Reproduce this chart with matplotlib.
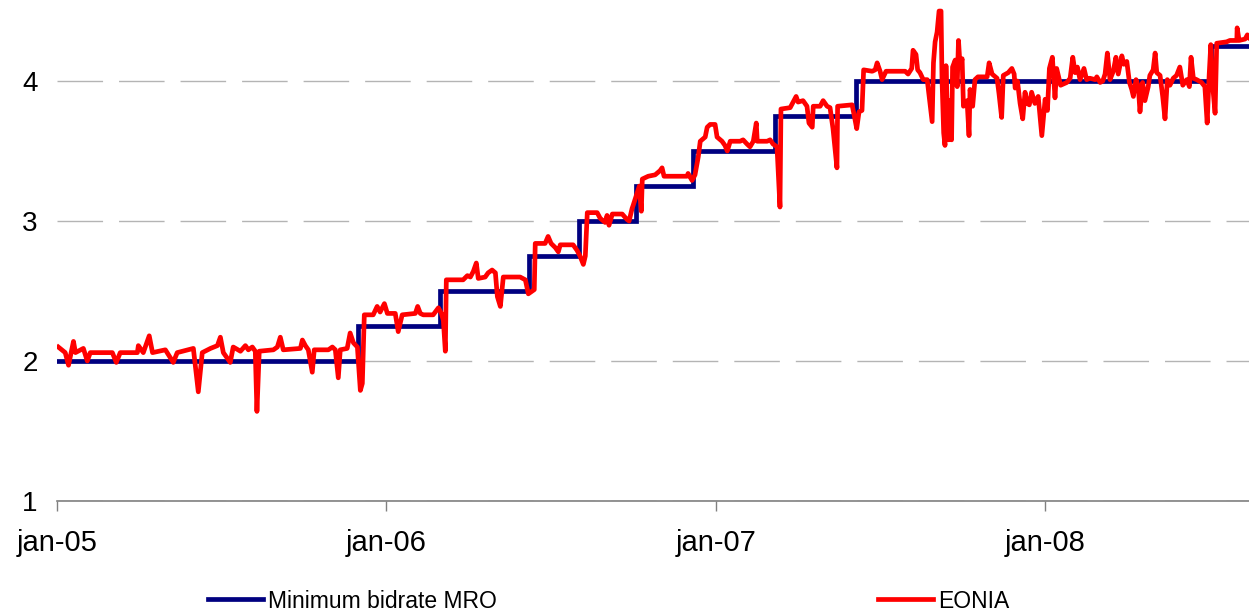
import matplotlib
matplotlib.use("Agg")
import matplotlib.pyplot as plt

plt.rcParams['font.family'] = ['Liberation Sans', 'DejaVu Sans']

# dates are decimal years
mro_t = [2005.000, 2005.915, 2006.164, 2006.433, 2006.586, 2006.759,
         2006.932, 2007.181, 2007.427, 2008.503, 2008.620]
mro_rate = [2.00, 2.25, 2.50, 2.75, 3.00, 3.25, 3.50, 3.75, 4.00, 4.25, 4.25]

# eonia, time in years since 1 jan 2005
eonia_t = [
    0.004, 0.025, 0.035, 0.050, 0.056, 0.080, 0.092, 0.101, 0.168, 0.180,
    0.192, 0.244, 0.247, 0.262, 0.280, 0.290, 0.329, 0.353, 0.365, 0.414,
    0.429, 0.441, 0.466, 0.487, 0.496, 0.505, 0.526, 0.535, 0.557, 0.572,
    0.581, 0.593, 0.602, 0.607, 0.614, 0.657, 0.669, 0.678, 0.687, 0.739,
    0.745, 0.754, 0.763, 0.775, 0.781, 0.824, 0.836, 0.845, 0.854, 0.860,
    0.881, 0.890, 0.900, 0.912, 0.921, 0.927, 0.933, 0.960, 0.972, 0.981,
    0.994, 1.003, 1.027, 1.036, 1.048, 1.088, 1.095, 1.103, 1.112, 1.142,
    1.158, 1.167, 1.173, 1.179, 1.182, 1.233, 1.246, 1.255, 1.264, 1.273,
    1.279, 1.300, 1.309, 1.321, 1.331, 1.337, 1.346, 1.355, 1.406, 1.422,
    1.431, 1.443, 1.449, 1.452, 1.482, 1.491, 1.500, 1.513, 1.522, 1.528,
    1.567, 1.579, 1.588, 1.598, 1.604, 1.610, 1.640, 1.649, 1.664, 1.670,
    1.676, 1.686, 1.716, 1.731, 1.737, 1.746, 1.749, 1.761, 1.768, 1.774,
    1.777, 1.795, 1.816, 1.831, 1.837, 1.843, 1.913, 1.916, 1.928, 1.937,
    1.947, 1.953, 1.968, 1.974, 1.983, 1.998, 2.004, 2.019, 2.028, 2.035,
    2.044, 2.074, 2.083, 2.095, 2.104, 2.114, 2.123, 2.126, 2.156, 2.165,
    2.174, 2.186, 2.195, 2.198, 2.226, 2.244, 2.250, 2.265, 2.277, 2.283,
    2.293, 2.296, 2.317, 2.326, 2.338, 2.347, 2.356, 2.368, 2.370, 2.414,
    2.420, 2.428, 2.435, 2.444, 2.449, 2.475, 2.484, 2.490, 2.499, 2.505,
    2.517, 2.575, 2.584, 2.595, 2.599, 2.608, 2.613, 2.620, 2.630, 2.642,
    2.648, 2.657, 2.661, 2.666, 2.672, 2.678, 2.684, 2.687, 2.692, 2.696,
    2.699, 2.704, 2.707, 2.711, 2.716, 2.719, 2.727, 2.733, 2.737, 2.742,
    2.748, 2.752, 2.763, 2.769, 2.772, 2.780, 2.787, 2.796, 2.824, 2.830,
    2.839, 2.854, 2.860, 2.868, 2.873, 2.888, 2.899, 2.906, 2.909, 2.916,
    2.924, 2.932, 2.939, 2.946, 2.952, 2.959, 2.969, 2.979, 2.990, 3.000,
    3.007, 3.013, 3.022, 3.030, 3.035, 3.040, 3.047, 3.066, 3.076, 3.084,
    3.091, 3.098, 3.106, 3.118, 3.126, 3.136, 3.152, 3.157, 3.167, 3.175,
    3.182, 3.189, 3.197, 3.207, 3.215, 3.222, 3.233, 3.239, 3.248, 3.256,
    3.263, 3.268, 3.276, 3.283, 3.288, 3.296, 3.303, 3.313, 3.318, 3.328,
    3.334, 3.339, 3.349, 3.357, 3.364, 3.371, 3.379, 3.389, 3.399, 3.409,
    3.418, 3.430, 3.438, 3.443, 3.450, 3.460, 3.475, 3.485, 3.492, 3.498,
    3.503, 3.509, 3.516, 3.521, 3.551, 3.561, 3.582, 3.583, 3.589, 3.607,
    3.614, 3.619,
]
eonia = [
    2.10, 2.06, 1.97, 2.14, 2.06, 2.09, 2.00, 2.06, 2.06, 1.99,
    2.06, 2.06, 2.11, 2.06, 2.18, 2.06, 2.08, 1.99, 2.06, 2.09,
    1.78, 2.06, 2.09, 2.11, 2.17, 2.06, 1.99, 2.10, 2.07, 2.11,
    2.08, 2.10, 2.07, 1.64, 2.07, 2.08, 2.10, 2.17, 2.08, 2.09,
    2.15, 2.11, 2.08, 1.92, 2.08, 2.08, 2.10, 2.08, 1.88, 2.08,
    2.09, 2.20, 2.13, 2.10, 1.79, 1.84, 2.33, 2.33, 2.39, 2.35,
    2.41, 2.34, 2.34, 2.21, 2.33, 2.34, 2.39, 2.34, 2.33, 2.33,
    2.38, 2.34, 2.29, 2.07, 2.58, 2.58, 2.61, 2.60, 2.64, 2.70,
    2.59, 2.60, 2.63, 2.65, 2.63, 2.46, 2.39, 2.60, 2.60, 2.58,
    2.48, 2.50, 2.51, 2.84, 2.84, 2.89, 2.84, 2.81, 2.78, 2.83,
    2.83, 2.79, 2.75, 2.69, 2.75, 3.06, 3.06, 3.02, 2.99, 3.04,
    2.97, 3.05, 3.05, 3.01, 3.00, 3.09, 3.11, 3.20, 3.25, 3.07,
    3.30, 3.32, 3.33, 3.36, 3.38, 3.32, 3.32, 3.34, 3.29, 3.33,
    3.46, 3.57, 3.60, 3.67, 3.69, 3.69, 3.60, 3.57, 3.54, 3.50,
    3.57, 3.57, 3.58, 3.55, 3.53, 3.57, 3.70, 3.57, 3.57, 3.58,
    3.55, 3.53, 3.10, 3.80, 3.81, 3.89, 3.85, 3.86, 3.82, 3.70,
    3.67, 3.82, 3.82, 3.86, 3.82, 3.81, 3.66, 3.38, 3.82, 3.83,
    3.76, 3.66, 3.78, 3.79, 4.08, 4.07, 4.08, 4.13, 4.07, 4.01,
    4.07, 4.07, 4.05, 4.09, 4.22, 4.19, 4.08, 4.06, 4.01, 4.01,
    3.89, 3.71, 4.13, 4.28, 4.35, 4.50, 4.50, 4.01, 3.63, 3.54,
    4.11, 3.68, 3.58, 3.86, 3.58, 4.10, 4.15, 3.96, 4.29, 4.10,
    4.16, 3.82, 3.86, 3.61, 3.94, 3.82, 4.01, 4.03, 4.03, 4.13,
    4.05, 4.02, 3.91, 3.74, 4.04, 4.06, 4.09, 4.05, 3.95, 4.00,
    3.84, 3.73, 3.92, 3.84, 3.83, 3.92, 3.84, 3.89, 3.61, 3.87,
    3.79, 4.09, 4.17, 3.88, 4.09, 4.04, 3.97, 3.99, 4.02, 4.17,
    4.06, 4.10, 4.01, 4.09, 4.01, 4.02, 4.01, 4.03, 3.99, 4.00,
    4.05, 4.20, 4.01, 4.07, 4.17, 4.05, 4.18, 4.12, 4.14, 3.99,
    3.94, 3.89, 4.01, 3.96, 3.78, 3.99, 3.86, 3.96, 4.04, 4.08,
    4.20, 4.06, 4.04, 3.89, 3.73, 4.01, 3.97, 4.02, 4.04, 4.10,
    3.97, 4.01, 3.96, 4.17, 4.02, 4.01, 3.99, 3.96, 3.70, 4.04,
    4.26, 3.96, 3.77, 4.27, 4.28, 4.29, 4.29, 4.38, 4.29, 4.30,
    4.33, 4.31,
]

year_ticks = [2005, 2006, 2007, 2008]
year_labels = ['jan-05', 'jan-06', 'jan-07', 'jan-08']
y_ticks = [1, 2, 3, 4]

W, H = 1249, 613
fig = plt.figure(figsize=(W / 100, H / 100), dpi=100)
ax = fig.add_axes([57 / W, 1 - 501 / H, 1 - 57 / W, 501 / H])

l1, = ax.step(mro_t, mro_rate, where='post', color='#000080', lw=3.4,
              solid_joinstyle='miter', zorder=2)
l2, = ax.plot([2005 + t for t in eonia_t], eonia, color='#ff0000', lw=3.4,
              solid_joinstyle='round', zorder=3)

ax.set_xlim(2005.0, 2008.619)
ax.set_ylim(1, 4.579)

for s in ['top', 'right', 'left']:
    ax.spines[s].set_visible(False)
ax.spines['bottom'].set_color('#808080')
ax.spines['bottom'].set_linewidth(1.2)

ax.set_xticks(year_ticks)
ax.set_xticklabels(year_labels)
ax.set_yticks(y_ticks)
ax.tick_params(axis='x', direction='out', length=7.2, width=1, color='#808080',
               labelsize=21, pad=13)
ax.tick_params(axis='y', length=0, labelsize=20, pad=14)

ax.set_axisbelow(True)
ax.yaxis.grid(True, color='#b4b4b4', linewidth=1, linestyle=(0, (32.8, 11.5)))

fig.legend([l1, l2], ['Minimum bidrate MRO', 'EONIA'], loc='center left',
           bbox_to_anchor=(208 / W, 1 - 601 / H), ncol=2, frameon=False,
           fontsize=16.5, handlelength=2.4, handletextpad=0.22,
           columnspacing=16.65, borderpad=0, borderaxespad=0)

fig.savefig('out.png', dpi=100)
